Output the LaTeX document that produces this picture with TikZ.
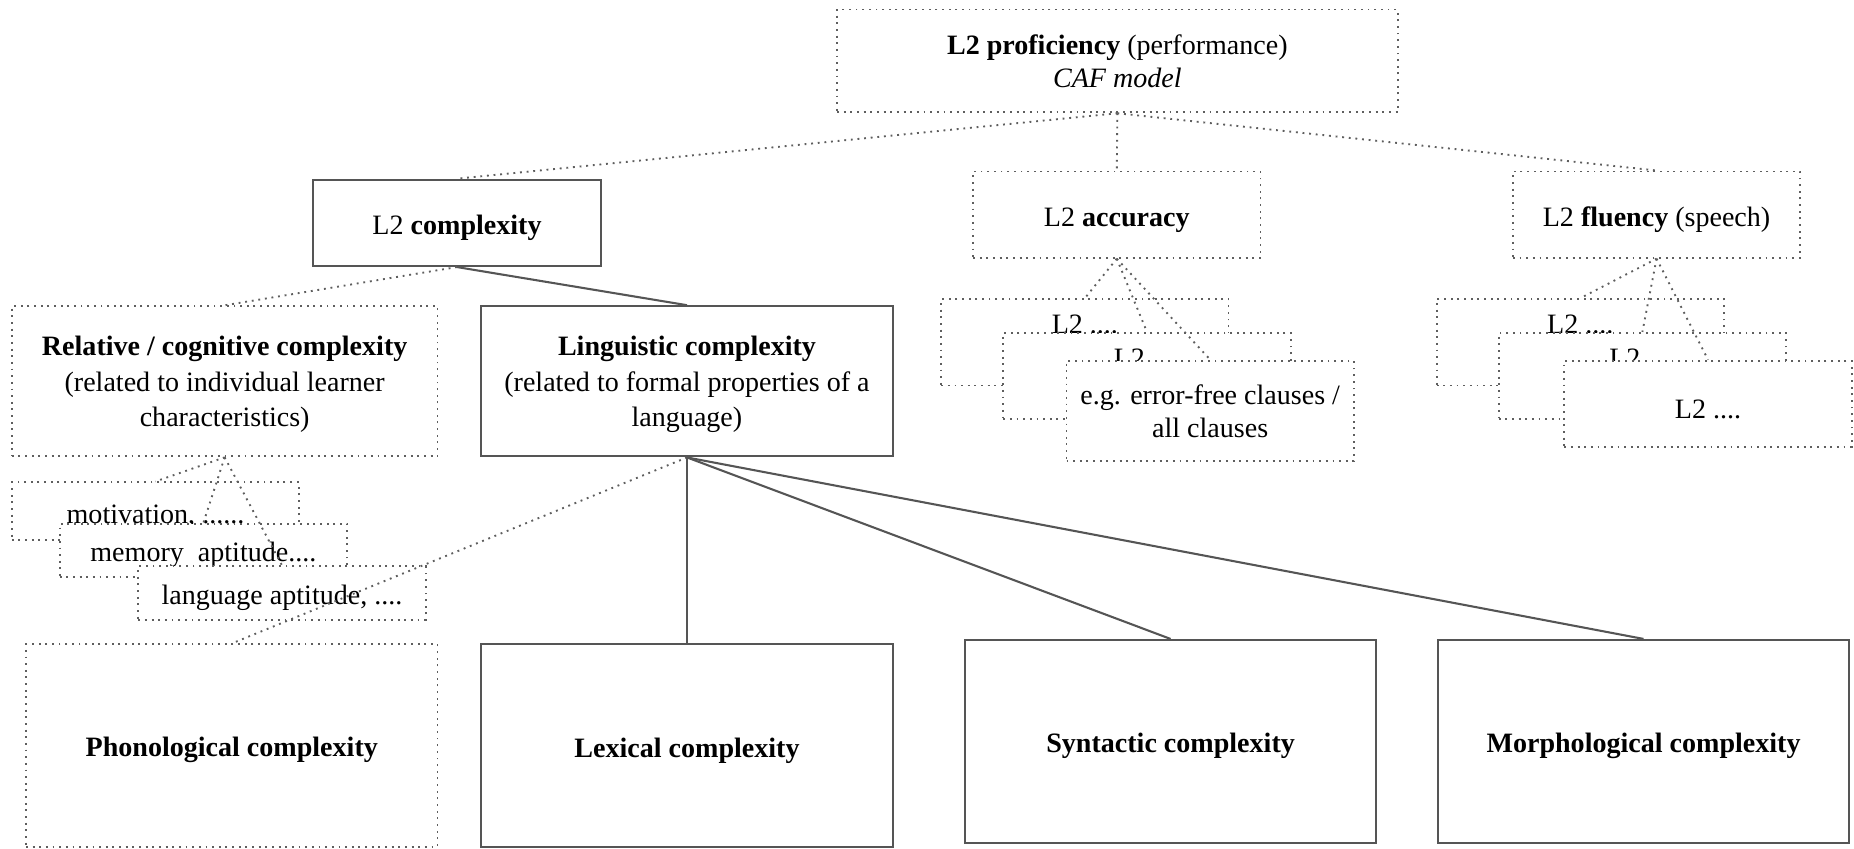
\documentclass[tikz,border=0pt]{standalone}
\usepackage{fontspec}
\setmainfont{Liberation Serif}
\usepackage{tikz}

\definecolor{linegray}{HTML}{555555}
\definecolor{dotgray}{HTML}{5E5E5E}

\tikzset{
  box/.style={draw=linegray, line width=1pt, fill=white, align=center, inner sep=3pt,
              execute at begin node={\rule{0pt}{14pt}}},
  dotline/.style={draw=dotgray, line width=0.9pt, dash pattern=on 0.9pt off 2.3pt},
  dotbox/.style={box, dotline},
  headbox/.style={minimum width=4.86cm, minimum height=1.46cm},
  smallbox/.style={minimum width=4.86cm, minimum height=0.9cm},
  bigbox/.style={minimum width=6.96cm, minimum height=3.43cm},
  hidden/.style={text depth=-1.7pt},
  solidline/.style={draw=linegray, line width=1pt}
}

\begin{document}
\begin{tikzpicture}[font=\fontsize{13.5}{17}\selectfont]

      \useasboundingbox (0,0) rectangle (31.36,-14.36);

      % Top
      \node[dotbox, minimum width=9.48cm, minimum height=1.74cm, text depth=-2pt] (prof) at (18.9,-1.03)
            {\textbf{L2 proficiency} (performance)\\[-1pt] \textit{CAF model}};

      % CAF components
      \node[box, headbox] (cplx) at (7.73,-3.77) {L2 \textbf{complexity}};
      \node[dotbox, headbox] (acc) at (18.89,-3.63) {L2 \textbf{accuracy}};
      \node[dotbox, headbox] (flu) at (28.02,-3.63) {L2 \textbf{fluency} (speech)};

      % Accuracy measures
      \node[dotbox, headbox, hidden] (acc1) at (18.35,-5.79) {L2 ....\\ \strut};
      \node[dotbox, headbox, hidden] (acc2) at (19.40,-6.36) {L2 ....\\ \strut};
      \node[dotbox, headbox, minimum height=1.7cm, text depth=-3pt] (acc3) at (20.47,-6.95)
            {e.g. error-free clauses /\\[-1pt] all clauses};

      % Fluency measures
      \node[dotbox, headbox, hidden] (flu1) at (26.73,-5.79) {L2 ....\\ \strut};
      \node[dotbox, headbox, hidden] (flu2) at (27.78,-6.36) {L2 ....\\ \strut};
      \node[dotbox, headbox] (flu3) at (28.89,-6.83) {L2 ....};

      % Complexity types
      \node[dotbox, minimum width=7.2cm, minimum height=2.54cm, text depth=-2.6pt] (rel) at (3.8,-6.45)
            {\textbf{Relative / cognitive complexity}\\ (related to individual learner\\ characteristics)};
      \node[box, minimum width=6.96cm, minimum height=2.54cm, text depth=-2.6pt] (ling) at (11.62,-6.45)
            {\textbf{Linguistic complexity}\\ (related to formal properties of a\\ language)};

      % Learner characteristics
      \node[dotbox, smallbox, minimum height=0.98cm] (mot) at (2.63,-8.65) {motivation, ......};
      \node[dotbox, smallbox] (mem) at (3.44,-9.31) {memory~~aptitude....};
      \node[dotbox, smallbox] (lang) at (4.77,-10.03) {language aptitude, ....};

      % Linguistic subsystems
      \node[dotbox, bigbox, minimum height=3.42cm] (phon) at (3.92,-12.61) {\textbf{Phonological complexity}};
      \node[box, bigbox, minimum height=3.42cm] (lex) at (11.62,-12.61) {\textbf{Lexical complexity}};
      \node[box, bigbox] (syn) at (19.8,-12.54) {\textbf{Syntactic complexity}};
      \node[box, bigbox] (mor) at (27.8,-12.54) {\textbf{Morphological complexity}};

      % Edges
      \draw[dotline] (prof.south) -- (cplx.north);
      \draw[dotline] (prof.south) -- (acc.north);
      \draw[dotline] (prof.south) -- (flu.north);

      \draw[dotline] (acc.south) -- (acc1.north);
      \draw[dotline] (acc.south) -- (acc2.north);
      \draw[dotline] (acc.south) -- (acc3.north);

      \draw[dotline] (flu.south) -- (flu1.north);
      \draw[dotline] (flu.south) -- (flu2.north);
      \draw[dotline] (flu.south) -- (flu3.north);

      \draw[dotline] (cplx.south) -- (rel.north);
      \draw[solidline] (cplx.south) -- (ling.north);

      \draw[dotline] (rel.south) -- (mot.north);
      \draw[dotline] (rel.south) -- (mem.north);
      \draw[dotline] (rel.south) -- (lang.north);

      \draw[dotline] (ling.south) -- (phon.north);
      \draw[solidline] (ling.south) -- (lex.north);
      \draw[solidline] (ling.south) -- (syn.north);
      \draw[solidline] (ling.south) -- (mor.north);

    \end{tikzpicture}
\end{document}
